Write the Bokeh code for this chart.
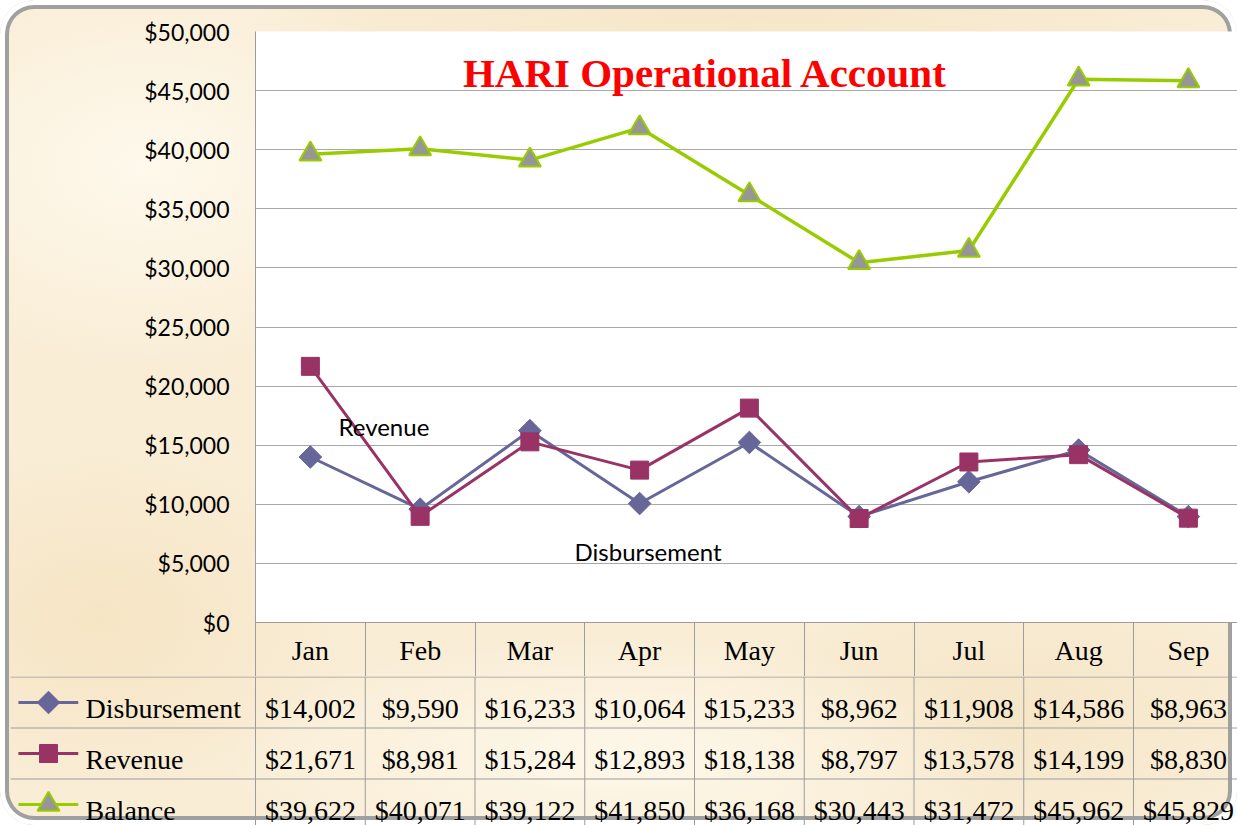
from math import pi
from bokeh.plotting import figure
from bokeh.layouts import column
from bokeh.models import (Range1d, FixedTicker, NumeralTickFormatter, Label,
                          ColumnDataSource)
from bokeh.embed import file_html
from bokeh.resources import INLINE

# ---------------- data ----------------
months = ["Jan", "Feb", "Mar", "Apr", "May", "Jun", "Jul", "Aug", "Sep"]
disbursement = [14002, 9590, 16233, 10064, 15233, 8962, 11908, 14586, 8963]
revenue = [21671, 8981, 15284, 12893, 18138, 8797, 13578, 14199, 8830]
balance = [39622, 40071, 39122, 41850, 36168, 30443, 31472, 45962, 45829]
series_names = ["Disbursement", "Revenue", "Balance"]
title_text = "HARI Operational Account"
y_ticks = list(range(0, 50001, 5000))

# ---------------- styles ----------------
C_DIS = "#666699"
C_REV = "#993366"
C_BAL = "#99CC00"
C_TRI = "#969696"
GRID = "#9c9c9c"
SERIF = "Liberation Serif"
SANS = "Lato"

xs = list(range(len(months)))
x_end = 8.4476

# ---------------- chart ----------------
top = figure(width=1237, height=676, x_range=Range1d(-0.5, x_end),
             y_range=Range1d(0, 50000), output_backend="svg",
             toolbar_location=None, min_border_left=255, min_border_right=0,
             min_border_top=31, min_border_bottom=54,
             background_fill_color="white", border_fill_color=None,
             outline_line_color=None, frame_align=False)

top.xgrid.visible = False
top.ygrid.grid_line_color = "#a8a8a8"
top.ygrid.ticker = FixedTicker(ticks=y_ticks)

yax = top.yaxis[0]
yax.ticker = FixedTicker(ticks=y_ticks)
yax.formatter = NumeralTickFormatter(format="$0,0")
yax.axis_line_color = GRID
yax.major_tick_line_color = None
yax.minor_tick_line_color = None
yax.major_label_text_font = SANS
yax.major_label_text_font_size = "23px"
yax.major_label_text_color = "black"
yax.major_label_standoff = 20

xax = top.xaxis[0]
xax.ticker = FixedTicker(ticks=xs, minor_ticks=[i - 0.5 for i in range(len(months) + 1)])
xax.major_label_overrides = {i: m for i, m in enumerate(months)}
xax.axis_line_color = GRID
xax.major_tick_line_color = None
xax.minor_tick_line_color = GRID
xax.minor_tick_in = 0
xax.minor_tick_out = 54
xax.major_label_text_font = SERIF
xax.major_label_text_font_size = "28px"
xax.major_label_text_color = "black"
xax.major_label_standoff = -42

top.line(xs, disbursement, line_color=C_DIS, line_width=3)
top.scatter(xs, disbursement, marker="square", angle=pi / 4, size=16,
            fill_color=C_DIS, line_color=C_DIS)
top.line(xs, revenue, line_color=C_REV, line_width=3)
top.scatter(xs, revenue, marker="square", size=18,
            fill_color=C_REV, line_color=C_REV)
top.line(xs, balance, line_color=C_BAL, line_width=3.5)
top.scatter(xs, balance, marker="triangle", size=22,
            fill_color=C_TRI, line_color=C_BAL, line_width=2)

top.add_layout(Label(x=3.6, y=46530, text=title_text, text_font=SERIF,
                     text_font_style="bold", text_font_size="41px",
                     text_color="#FF0000", text_align="center",
                     text_baseline="middle"))
top.add_layout(Label(x=0.256, y=16610, text=series_names[1], text_font=SANS,
                     text_font_size="24px", text_color="black",
                     text_align="left", text_baseline="middle"))
top.add_layout(Label(x=2.407, y=6017, text=series_names[0], text_font=SANS,
                     text_font_size="24px", text_color="black",
                     text_align="left", text_baseline="middle"))

# ---------------- data table ----------------
x_start = -0.5 - 255 / 109.75
bot = figure(width=1237, height=149, x_range=Range1d(x_start, x_end),
             y_range=Range1d(0.51 - 149 / 51, 0.51), output_backend="svg",
             toolbar_location=None, x_axis_type=None, y_axis_type=None,
             min_border_left=0, min_border_right=0, min_border_top=0,
             min_border_bottom=0, background_fill_color=None,
             border_fill_color=None, outline_line_color=None,
             frame_align=False)
bot.xgrid.visible = False
bot.ygrid.visible = False

rows_y = [0, -1, -2]
# grid lines of the table
bot.segment(x0=[-2.73] * 3, y0=[0.5, -0.5, -1.5], x1=[x_end] * 3,
            y1=[0.5, -0.5, -1.5], line_color=GRID, line_width=1)
vx = [i - 0.5 for i in range(len(months) + 1)]
bot.segment(x0=vx, y0=[0.5] * len(vx), x1=vx, y1=[-2.6] * len(vx),
            line_color=GRID, line_width=1)

# legend keys
colors = [C_DIS, C_REV, C_BAL]
bot.segment(x0=[-2.66] * 3, y0=rows_y, x1=[-2.115] * 3, y1=rows_y,
            line_color=colors, line_width=3)
key_x = -2.386
bot.scatter([key_x], [rows_y[0]], marker="square", angle=pi / 4, size=16,
            fill_color=C_DIS, line_color=C_DIS)
bot.scatter([key_x], [rows_y[1]], marker="square", size=18,
            fill_color=C_REV, line_color=C_REV)
bot.scatter([key_x], [rows_y[2]], marker="triangle", size=22,
            fill_color=C_TRI, line_color=C_BAL, line_width=2)
bot.text(x=[-2.049] * 3, y=rows_y, text=series_names, text_font={"value": SERIF},
         text_font_size="28px", text_color="black", text_align="left",
         text_baseline="middle", y_offset=6)

tx, ty, tt = [], [], []
for r, vals in enumerate([disbursement, revenue, balance]):
    for i, v in enumerate(vals):
        tx.append(xs[i])
        ty.append(rows_y[r])
        tt.append("${:,}".format(v))
bot.text(x="x", y="y", text="t", source=ColumnDataSource(dict(x=tx, y=ty, t=tt)),
         text_font={"value": SERIF}, text_font_size="28px", text_color="black",
         text_align="center", text_baseline="middle", y_offset=6)

parchment = (
    "radial-gradient(ellipse 300px 200px at 12% 20%, rgba(255,251,240,0.85), rgba(255,251,240,0)),"
    "radial-gradient(ellipse 260px 180px at 8% 75%, rgba(244,222,182,0.55), rgba(244,222,182,0)),"
    "radial-gradient(ellipse 400px 120px at 50% 92%, rgba(255,250,238,0.8), rgba(255,250,238,0)),"
    "radial-gradient(ellipse 300px 140px at 82% 86%, rgba(243,224,188,0.55), rgba(243,224,188,0)),"
    "radial-gradient(ellipse 500px 60px at 60% 2%, rgba(244,226,192,0.6), rgba(244,226,192,0)),"
    "#F9EDD6"
)
layout = column(top, bot, styles={
    "background": parchment,
    "border-radius": "34px",
    "box-shadow": "inset 0 0 0 5px #ffffff, inset 0 0 0 9px #a0a0a0",
})

open("out.html", "w").write(file_html(layout, INLINE))
